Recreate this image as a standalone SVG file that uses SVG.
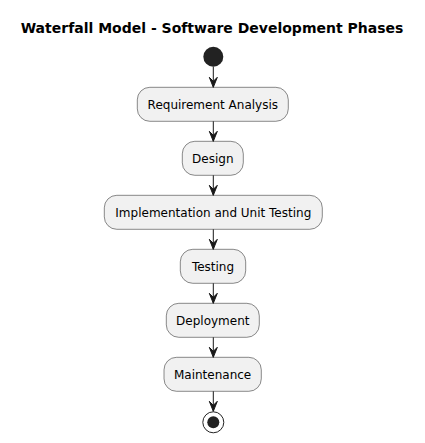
<svg xmlns="http://www.w3.org/2000/svg" width="425" height="443" viewBox="0 0 425 443">
<style>
.box{fill:#F1F1F1;stroke:#181818;stroke-width:0.5}
.lbl{font-family:"DejaVu Sans",sans-serif;font-size:12px;fill:#000;text-anchor:middle}
.ttl{font-family:"DejaVu Sans",sans-serif;font-size:14px;font-weight:bold;fill:#000;text-anchor:middle}
.ln{stroke:#181818;stroke-width:1;fill:none}
.ah{fill:#181818;stroke:#181818;stroke-width:1}
</style>
<rect width="425" height="443" fill="#FFFFFF"/>
<text class="ttl" x="212" y="33">Waterfall Model - Software Development Phases</text>
<g id="start"><circle cx="213.3" cy="56.7" r="10" fill="#222222"/></g>
<g id="n1"><rect class="box" x="137.3" y="87.3" width="151" height="34" rx="12.5"/><text class="lbl" x="212.8" y="108.5">Requirement Analysis</text></g>
<g id="n2"><rect class="box" x="182.3" y="141.3" width="61" height="34" rx="12.5"/><text class="lbl" x="212.8" y="162.5">Design</text></g>
<g id="n3"><rect class="box" x="104.3" y="195.3" width="218" height="34" rx="12.5"/><text class="lbl" x="213.3" y="216.5">Implementation and Unit Testing</text></g>
<g id="n4"><rect class="box" x="180.3" y="249.3" width="65.4" height="34" rx="12.5"/><text class="lbl" x="213" y="270.5">Testing</text></g>
<g id="n5"><rect class="box" x="166.3" y="303.3" width="93" height="34" rx="12.5"/><text class="lbl" x="212.8" y="324.5">Deployment</text></g>
<g id="n6"><rect class="box" x="164" y="357.3" width="97.3" height="34" rx="12.5"/><text class="lbl" x="212.6" y="378.5">Maintenance</text></g>
<g id="end"><circle cx="213.3" cy="422.3" r="10.5" fill="none" stroke="#222222" stroke-width="1"/><circle cx="213.3" cy="422.3" r="6" fill="#222222"/></g>
<g id="connectors">
<line class="ln" x1="213.3" y1="66.7" x2="213.3" y2="87.3"/>
<polygon class="ah" points="209.3,77.3 213.3,87.3 217.3,77.3 213.3,81.3"/>
<line class="ln" x1="213.3" y1="121.3" x2="213.3" y2="141.3"/>
<polygon class="ah" points="209.3,131.3 213.3,141.3 217.3,131.3 213.3,135.3"/>
<line class="ln" x1="213.3" y1="175.3" x2="213.3" y2="195.3"/>
<polygon class="ah" points="209.3,185.3 213.3,195.3 217.3,185.3 213.3,189.3"/>
<line class="ln" x1="213.3" y1="229.3" x2="213.3" y2="249.3"/>
<polygon class="ah" points="209.3,239.3 213.3,249.3 217.3,239.3 213.3,243.3"/>
<line class="ln" x1="213.3" y1="283.3" x2="213.3" y2="303.3"/>
<polygon class="ah" points="209.3,293.3 213.3,303.3 217.3,293.3 213.3,297.3"/>
<line class="ln" x1="213.3" y1="337.3" x2="213.3" y2="357.3"/>
<polygon class="ah" points="209.3,347.3 213.3,357.3 217.3,347.3 213.3,351.3"/>
<line class="ln" x1="213.3" y1="391.3" x2="213.3" y2="411.3"/>
<polygon class="ah" points="209.3,401.3 213.3,411.3 217.3,401.3 213.3,405.3"/>
</g>
</svg>
